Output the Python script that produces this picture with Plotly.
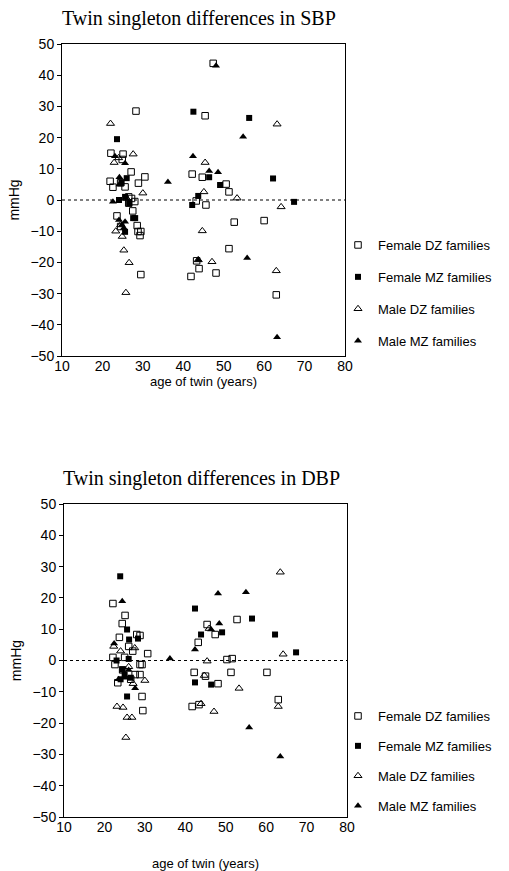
import plotly.graph_objects as go

# ---------------- SBP (top panel) ----------------
sbp_fdz_x = [22.1, 25.1, 24.9, 27.1, 30.5, 28.3, 21.9, 22.6, 24.5, 25.6, 28.9, 26.5, 27.2, 28.0, 27.5, 23.6, 28.6, 28.8, 29.5, 29.3, 29.5, 42.2, 44.7, 45.4, 47.4, 50.6, 51.3, 43.2, 45.6, 52.6, 60.0, 51.3, 43.3, 43.9, 41.9, 48.1, 63.0, 24.5, 26.5]
sbp_fdz_y = [15.0, 14.7, 13.0, 9.0, 7.4, 28.5, 6.0, 4.1, 5.5, 4.2, 5.4, 1.0, 0.5, -0.5, -3.5, -5.1, -8.2, -10.1, -10.1, -11.4, -23.9, 8.3, 7.3, 27.0, 43.8, 5.1, 2.6, -0.3, -1.6, -7.1, -6.6, -15.6, -19.5, -22.0, -24.5, -23.4, -30.4, -8.5, -1.0]

sbp_fmz_x = [23.6, 42.5, 56.3, 46.4, 62.2, 26.0, 24.1, 25.6, 26.6, 27.6, 28.1, 42.2, 43.7, 49.1, 67.4, 25.6, 24.7]
sbp_fmz_y = [19.5, 28.3, 26.3, 7.3, 6.9, 7.0, 0.0, 1.0, -1.1, -5.8, -5.8, -1.6, 1.3, 4.8, -0.6, -10.2, 5.5]

sbp_mdz_x = [22.0, 22.9, 27.6, 30.0, 23.3, 24.9, 25.3, 26.6, 25.8, 24.5, 63.2, 45.4, 45.1, 53.3, 64.2, 44.7, 43.7, 47.1, 63.0, 26.0, 24.0]
sbp_mdz_y = [24.5, 12.0, 14.7, 2.2, -10.0, -11.7, -16.1, -20.1, -29.7, -8.0, 24.3, 12.0, 2.6, 0.6, -2.2, -9.9, -19.2, -19.8, -22.7, 0.5, 13.5]

sbp_mmz_x = [23.1, 25.6, 24.2, 36.2, 22.6, 24.1, 25.6, 25.3, 24.8, 48.1, 42.4, 54.8, 46.4, 48.6, 55.8, 43.7, 63.2, 24.2]
sbp_mmz_y = [14.0, 11.8, 7.3, 5.8, -0.6, -6.4, -7.0, -9.0, -8.0, 43.0, 14.0, 20.3, 9.3, 8.9, -18.6, -19.2, -44.0, 5.0]

# ---------------- DBP (bottom panel) ----------------
dbp_fdz_x = [22.1, 25.1, 24.4, 23.7, 28.0, 28.8, 30.7, 22.1, 22.6, 28.8, 29.3, 23.3, 27.6, 28.8, 29.3, 29.5, 26.0, 27.0, 25.0, 43.2, 52.8, 45.4, 47.4, 50.3, 51.6, 42.2, 45.0, 51.3, 60.2, 48.1, 41.7, 43.4, 63.0, 24.5, 26.5]
dbp_fdz_y = [18.2, 14.4, 11.8, 7.4, 8.3, 8.0, 2.2, 1.0, -1.3, -1.3, -1.3, -7.1, -4.5, -4.5, -11.5, -16.0, 4.5, 3.0, 1.0, 5.8, 13.1, 11.5, 8.3, 0.3, 0.6, -3.8, -5.0, -3.8, -3.8, -7.4, -14.7, -14.1, -12.5, -3.0, -6.0]

dbp_fmz_x = [23.9, 25.6, 26.1, 28.3, 42.4, 56.5, 49.1, 43.9, 62.2, 67.4, 42.4, 46.4, 25.6, 23.0, 26.0, 24.4, 25.0, 24.0, 26.5]
dbp_fmz_y = [26.9, 9.9, 6.7, 7.0, 16.6, 13.4, 9.0, 8.3, 8.3, 2.6, -7.0, -7.7, -11.5, 0.0, 0.5, -2.9, -4.5, -6.0, -5.5]

dbp_mdz_x = [63.5, 45.9, 45.4, 64.2, 44.7, 53.3, 43.9, 47.1, 63.0, 23.1, 24.6, 25.6, 26.8, 25.3, 27.1, 30.0, 22.3, 24.0, 27.5, 26.0]
dbp_mdz_y = [28.2, 10.2, -0.2, 2.0, -4.8, -8.9, -13.8, -16.3, -14.7, -14.7, -15.0, -18.2, -18.2, -24.6, -7.4, -6.4, 4.5, 3.0, 4.0, -2.0]

dbp_mmz_x = [24.4, 22.4, 36.2, 48.1, 55.0, 48.4, 46.4, 42.4, 55.8, 63.5, 27.6, 23.5, 25.0, 26.0]
dbp_mmz_y = [18.9, 5.4, 0.6, 21.4, 21.8, 11.8, 9.9, 3.5, -21.4, -30.7, -8.9, -6.0, -5.5, -3.0]

series_names = ["Female DZ families", "Female MZ families", "Male DZ families", "Male MZ families"]
x_ticks = [10, 20, 30, 40, 50, 60, 70, 80]
y_ticks = [-50, -40, -30, -20, -10, 0, 10, 20, 30, 40, 50]

styles = [
    dict(symbol="square-open", size=6.5, color="black", line=dict(width=1, color="black")),
    dict(symbol="square", size=6, color="black"),
    dict(symbol="triangle-up-open", size=7, color="black", line=dict(width=1, color="black")),
    dict(symbol="triangle-up", size=7, color="black"),
]

fig = go.Figure()

top = [(sbp_fdz_x, sbp_fdz_y), (sbp_fmz_x, sbp_fmz_y), (sbp_mdz_x, sbp_mdz_y), (sbp_mmz_x, sbp_mmz_y)]
bot = [(dbp_fdz_x, dbp_fdz_y), (dbp_fmz_x, dbp_fmz_y), (dbp_mdz_x, dbp_mdz_y), (dbp_mmz_x, dbp_mmz_y)]

for i, (xs, ys) in enumerate(top):
    fig.add_trace(go.Scatter(x=xs, y=ys, mode="markers", name=series_names[i], marker=styles[i],
                             xaxis="x", yaxis="y", legend="legend", legendgroup="t%d" % i))
for i, (xs, ys) in enumerate(bot):
    fig.add_trace(go.Scatter(x=xs, y=ys, mode="markers", name=series_names[i], marker=styles[i],
                             xaxis="x2", yaxis="y2", legend="legend2", legendgroup="b%d" % i))

W, H = 509, 871
tick_font = dict(family="Liberation Sans, Arial", size=14, color="black")

def xax(domain, anchor, standoff):
    return dict(domain=domain, anchor=anchor, range=[10, 80], tickvals=x_ticks, ticks="",
                showgrid=False, zeroline=False, showline=True, mirror=True, linecolor="black",
                linewidth=1, tickfont=tick_font, automargin=False, ticklabelstandoff=-3,
                title=dict(text="age of twin (years)", font=dict(family="Liberation Sans, Arial", size=13, color="black"), standoff=standoff))

def yax(domain, anchor):
    return dict(domain=domain, anchor=anchor, range=[-50, 50], tickvals=y_ticks, ticks="outside",
                ticklen=4, tickcolor="black", showgrid=False, zeroline=False, showline=True, mirror=True,
                linecolor="black", linewidth=1, tickfont=tick_font, automargin=False,
                title=dict(text="mmHg", font=dict(family="Liberation Sans, Arial", size=14, color="black"), standoff=7))

legend_common = dict(font=dict(family="Liberation Sans, Arial", size=13, color="black"),
                     bgcolor="rgba(0,0,0,0)", itemsizing="trace",
                     xanchor="left", yanchor="top", itemwidth=30)

fig.update_layout(
    width=W, height=H, paper_bgcolor="white", plot_bgcolor="white",
    margin=dict(l=0, r=0, t=0, b=0, autoexpand=False),
    xaxis=xax([62 / W, 345 / W], "y", 0),
    yaxis=yax([(H - 356) / H, (H - 44) / H], "x"),
    xaxis2=xax([64 / W, 347 / W], "y2", 27),
    yaxis2=yax([(H - 817) / H, (H - 504) / H], "x2"),
    legend=dict(x=338 / W, y=(H - 230) / H, tracegroupgap=12, **legend_common),
    legend2=dict(x=338 / W, y=(H - 701) / H, tracegroupgap=10, **legend_common),
    showlegend=True,
    annotations=[
        dict(text="Twin singleton differences in SBP", xref="paper", yref="paper", x=199 / W, y=(H - 18) / H,
             xanchor="center", yanchor="middle", showarrow=False,
             font=dict(family="Liberation Serif, Times New Roman", size=20, color="black")),
        dict(text="Twin singleton differences in DBP", xref="paper", yref="paper", x=201 / W, y=(H - 478) / H,
             xanchor="center", yanchor="middle", showarrow=False,
             font=dict(family="Liberation Serif, Times New Roman", size=20, color="black")),
    ],
    shapes=[
        dict(type="line", xref="x domain", yref="y", x0=0, x1=1, y0=0, y1=0,
             line=dict(color="black", width=1, dash="dot")),
        dict(type="line", xref="x2 domain", yref="y2", x0=0, x1=1, y0=0, y1=0,
             line=dict(color="black", width=1, dash="dot")),
    ],
)

fig.write_html("out.html", config={"displayModeBar": False},
               post_script="document.body.style.margin='0';")
